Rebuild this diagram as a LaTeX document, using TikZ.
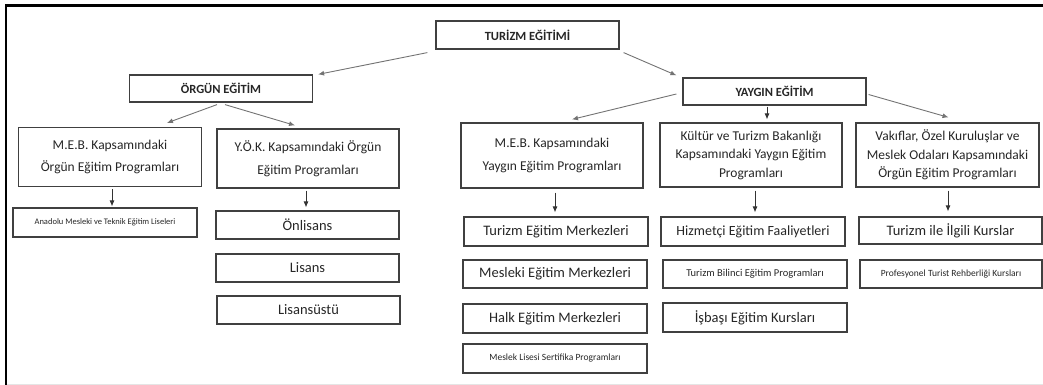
\documentclass[tikz,border=0pt]{standalone}
\usepackage{fontspec}
\setmainfont{Carlito}
\usepackage{tikz}
\usetikzlibrary{arrows.meta,calc}

\tikzset{
  box/.style={draw=black!75, line width=1.2pt, text=black!85, inner sep=0pt,
    align=center, minimum width=183pt, minimum height=28pt},
  head/.style={box, font=\bfseries\fontsize{12.5}{15}\selectfont},
  prog/.style={box, minimum height=59pt, font=\fontsize{13.5}{22.5}\selectfont},
  progiii/.style={box, minimum height=64pt, font=\fontsize{13.5}{18.5}\selectfont},
  item/.style={box, font=\fontsize{14.5}{17}\selectfont},
  smallitem/.style={box, font=\fontsize{9.5}{11}\selectfont},
  arr/.style={-{Latex[length=6pt,width=5pt]}, black!55, line width=0.9pt},
  darr/.style={-{Latex[length=6pt,width=5pt]}, black!80, line width=0.8pt}
}

\begin{document}
\begin{tikzpicture}[x=1pt,y=-1pt]
    \useasboundingbox (0,0) rectangle (1043,385);

    % Frame
    \draw[black!10, line width=1pt] (6,384) -- (1043,384);
    \draw[line width=2.5pt] (6,385) -- (6,5.5) -- (1043,5.5);

    % Top levels
    \node[head] (turizm) at (527.5,35) {TURİZM EĞİTİMİ};
    \node[head, minimum height=27pt] (orgun) at (221,88.5) {ÖRGÜN EĞİTİM};
    \node[head, minimum height=27pt] (yaygin) at (774.5,91.5) {YAYGIN EĞİTİM};

    % Programmes
    \node[prog] (mebo) at (110,157) {M.E.B. Kapsamındaki\\Örgün Eğitim Programları};
    \node[prog, minimum width=182pt] (yok) at (308,158.5) {Y.Ö.K. Kapsamındaki Örgün\\Eğitim Programları};
    \node[prog, minimum width=182pt, minimum height=65pt] (meby) at (552,155.5) {M.E.B. Kapsamındaki\\Yaygın Eğitim Programları};
    \node[progiii, minimum width=182pt] (kultur) at (751,155) {Kültür ve Turizm Bakanlığı\\Kapsamındaki Yaygın Eğitim\\Programları};
    \node[progiii] (vakif) at (947.5,155) {Vakıflar, Özel Kuruluşlar ve\\Meslek Odaları Kapsamındaki\\Örgün Eğitim Programları};

    % Orgun items
    \node[smallitem, minimum width=184pt, minimum height=29pt, font=\fontsize{8.5}{10}\selectfont] (anadolu) at (105,222.5) {Anadolu Mesleki ve Teknik Eğitim Liseleri};
    \node[item] (onlisans) at (307.5,225) {Önlisans};
    \node[item] (lisans) at (307.5,268) {Lisans};
    \node[item] (lisansustu) at (308.5,310) {Lisansüstü};

    % Yaygin items
    \node[item, minimum width=184pt, minimum height=29pt] (tem) at (556,231.5) {Turizm Eğitim Merkezleri};
    \node[item, minimum width=184pt] (mem) at (555,274) {Mesleki Eğitim Merkezleri};
    \node[item, minimum width=184pt, minimum height=29pt] (hem) at (555,318.5) {Halk Eğitim Merkezleri};
    \node[smallitem, minimum width=184pt, minimum height=29pt] (mlsp) at (555,358.5) {Meslek Lisesi Sertifika Programları};
    \node[item, minimum width=184pt, minimum height=29pt, font=\fontsize{14}{17}\selectfont] (hizmetci) at (753,231.5) {Hizmetçi Eğitim Faaliyetleri};
    \node[smallitem, minimum width=184pt, font=\fontsize{10.5}{12}\selectfont] (bilinci) at (755,274) {Turizm Bilinci Eğitim Programları};
    \node[item, minimum width=184pt, minimum height=29pt] (isbasi) at (755,317.5) {İşbaşı Eğitim Kursları};
    \node[item, minimum height=27pt] (ilgili) at (950.5,230.5) {Turizm ile İlgili Kurslar};
    \node[smallitem, minimum width=182pt] (profesyonel) at (951,274) {Profesyonel Turist Rehberliği Kursları};

    % Arrows from the top
    \draw[arr] ($(turizm.south west)+(-8,3)$) -- ($(orgun.north east)+(5,0)$);
    \draw[arr] ($(turizm.south east)+(4,3)$) -- ($(yaygin.north west)+(-6,-2)$);
    \draw[arr] ($(orgun.south)+(-4,2)$) -- ($(mebo.north)+(57,-4)$);
    \draw[arr] ($(orgun.south)+(4,2)$) -- ($(yok.north)+(-13,-3)$);
    \draw[arr] ($(yaygin.west)+(-6,2.5)$) -- ($(meby.north)+(20,-3)$);
    \draw[darr] ($(yaygin.south)+(-7.5,1)$) -- ($(kultur.north)+(16,-3)$);
    \draw[arr] ($(yaygin.east)+(2,3)$) -- ($(vakif.north)+(1,-5)$);

    % Arrows down to the items
    \draw[darr] ($(mebo.south)+(2,2)$) -- ($(anadolu.north)+(7,-1)$);
    \draw[darr] ($(yok.south)+(-2,2)$) -- ($(onlisans.north)+(-1.5,-3)$);
    \draw[darr] ($(meby.south)+(3,4)$) -- ($(tem.north)+(-1,-4)$);
    \draw[darr] ($(kultur.south)+(4,3)$) -- ($(hizmetci.north)+(2,-4)$);
    \draw[darr] ($(vakif.south)+(0.5,3)$) -- ($(ilgili.north)+(-2.5,-5)$);
\end{tikzpicture}
\end{document}
